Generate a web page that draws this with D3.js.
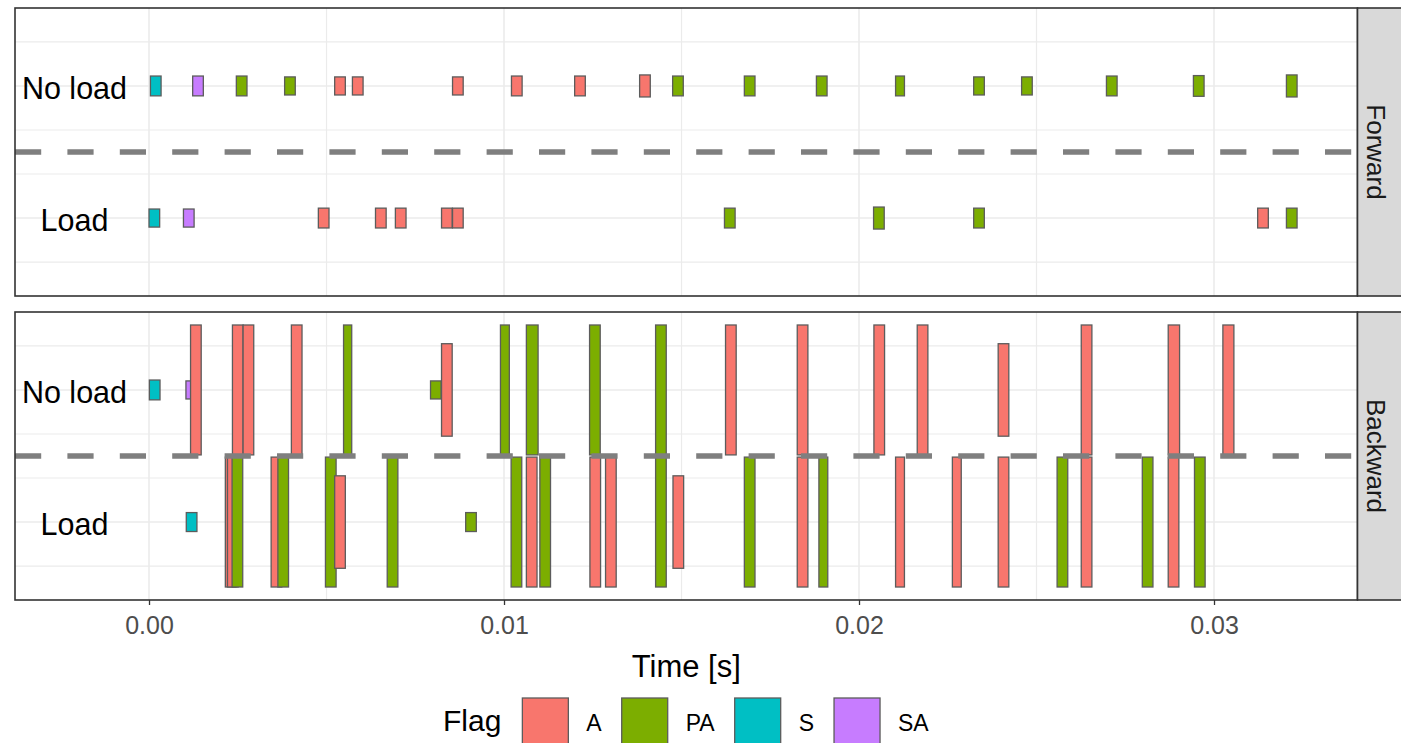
<!DOCTYPE html>
<html>
<head>
<meta charset="utf-8">
<script src="https://cdn.jsdelivr.net/npm/d3@7"></script>
<style>
  body { margin: 0; background: #ffffff; }
  svg { display: block; }
  text { font-family: "Liberation Sans", Arial, Helvetica, sans-serif; }
</style>
</head>
<body>
<svg id="chart" width="1401" height="743"></svg>
<script>
// ---- data -------------------------------------------------------------
// Each packet: [start time (s), TCP flag, bar height (y units), duration (s, optional)]
const flags = ["A", "PA", "S", "SA"];
const flagColors = ["#F8766D", "#7CAE00", "#00BFC4", "#C77CFF"];
const directions = ["Forward", "Backward"];
const conditions = ["No load", "Load"];
const conditionCentre = [1.5, -1.5];
const labelTime = -0.0021;
const xTicks = [0, 0.01, 0.02, 0.03];
const xTickLabels = ["0.00", "0.01", "0.02", "0.03"];
const xMinor = [0.005, 0.015, 0.025];
const yMajor = [1.5, -1.5];
const yMinor = [2.5, 0.5, -0.5, -2.5];
const defaultDuration = 0.0003;

const forwardNoLoad = [
  [0.00004, "S", 0.45], [0.00123, "SA", 0.45], [0.00246, "PA", 0.45],
  [0.00382, "PA", 0.41], [0.00523, "A", 0.41], [0.00573, "A", 0.41],
  [0.00855, "A", 0.41], [0.01021, "A", 0.45], [0.01199, "A", 0.45],
  [0.01382, "A", 0.50], [0.01475, "PA", 0.45], [0.01677, "PA", 0.45],
  [0.01880, "PA", 0.45], [0.02103, "PA", 0.45, 0.00025], [0.02323, "PA", 0.41],
  [0.02458, "PA", 0.41], [0.02697, "PA", 0.45], [0.02942, "PA", 0.47],
  [0.03204, "PA", 0.50]
];

const forwardLoad = [
  [0.00000, "S", 0.41], [0.00097, "SA", 0.41], [0.00477, "A", 0.45],
  [0.00638, "A", 0.45], [0.00694, "A", 0.45], [0.00824, "A", 0.45],
  [0.00855, "A", 0.45], [0.01621, "PA", 0.45], [0.02041, "PA", 0.50],
  [0.02323, "PA", 0.45], [0.03123, "A", 0.45], [0.03204, "PA", 0.45]
];

const backwardNoLoad = [
  [0.00001, "S", 0.45], [0.00104, "SA", 0.41], [0.00117, "A", 2.95],
  [0.00235, "A", 2.95], [0.00265, "A", 2.95], [0.00401, "A", 2.95],
  [0.00548, "PA", 2.95, 0.00023], [0.00793, "PA", 0.41], [0.00824, "A", 2.1],
  [0.00990, "PA", 2.95, 0.00025], [0.01063, "PA", 2.95, 0.00033], [0.01241, "PA", 2.95],
  [0.01427, "PA", 2.95], [0.01624, "A", 2.95], [0.01826, "A", 2.95],
  [0.02042, "A", 2.95], [0.02164, "A", 2.95], [0.02392, "A", 2.1],
  [0.02626, "A", 2.95], [0.02871, "A", 2.95, 0.00032], [0.03025, "A", 2.95, 0.00031]
];

const backwardLoad = [
  [0.00105, "S", 0.43], [0.00215, "A", 2.95], [0.00221, "A", 2.95],
  [0.00234, "PA", 2.95], [0.00344, "A", 2.95], [0.00363, "PA", 2.95],
  [0.00497, "PA", 2.95], [0.00523, "A", 2.1], [0.00671, "PA", 2.95],
  [0.00892, "PA", 0.43], [0.01020, "PA", 2.95], [0.01063, "A", 2.95],
  [0.01101, "PA", 2.95], [0.01242, "A", 2.95], [0.01286, "A", 2.95],
  [0.01427, "PA", 2.95], [0.01476, "A", 2.1], [0.01677, "PA", 2.95],
  [0.01826, "A", 2.95], [0.01887, "PA", 2.95, 0.00025], [0.02103, "A", 2.95, 0.00025],
  [0.02263, "A", 2.95, 0.00025], [0.02392, "A", 2.95], [0.02558, "PA", 2.95],
  [0.02626, "A", 2.95], [0.02798, "PA", 2.95], [0.02871, "A", 2.95],
  [0.02945, "PA", 2.95]
];

const panelPackets = [[forwardNoLoad, forwardLoad], [backwardNoLoad, backwardLoad]];

// ---- layout -----------------------------------------------------------
const svg = d3.select("#chart");
const panelLeft = 15, panelRight = 1357.5;
const panelTops = [8, 312];
const panelHeight = 288;
const stripWidth = 46;

const x = d3.scaleLinear().domain([-0.003775, 0.034042]).range([panelLeft, panelRight]);
const colour = d3.scaleOrdinal().domain(flags).range(flagColors);

directions.forEach((dir, p) => {
  const top = panelTops[p];
  const y = d3.scaleLinear().domain([-3.27, 3.27]).range([top + panelHeight, top]);
  const g = svg.append("g");

  // panel background
  g.append("rect").attr("x", panelLeft).attr("y", top)
    .attr("width", panelRight - panelLeft).attr("height", panelHeight)
    .attr("fill", "#ffffff");

  // grid lines
  const grid = g.append("g").attr("stroke", "#ebebeb").attr("fill", "none");
  yMinor.forEach(v => grid.append("line")
    .attr("x1", panelLeft).attr("x2", panelRight).attr("y1", y(v)).attr("y2", y(v))
    .attr("stroke-width", 1.2));
  xMinor.forEach(v => grid.append("line")
    .attr("x1", x(v)).attr("x2", x(v)).attr("y1", top).attr("y2", top + panelHeight)
    .attr("stroke-width", 1.2));
  yMajor.forEach(v => grid.append("line")
    .attr("x1", panelLeft).attr("x2", panelRight).attr("y1", y(v)).attr("y2", y(v))
    .attr("stroke-width", 1.6));
  xTicks.forEach(v => grid.append("line")
    .attr("x1", x(v)).attr("x2", x(v)).attr("y1", top).attr("y2", top + panelHeight)
    .attr("stroke-width", 1.6));

  // condition labels drawn inside the panel
  conditions.forEach((c, i) => {
    g.append("text").attr("x", x(labelTime)).attr("y", y(conditionCentre[i]))
      .attr("text-anchor", "middle").attr("dy", "0.42em")
      .attr("font-size", 30.5).attr("fill", "#000000").text(c);
  });

  // packet bars
  conditions.forEach((c, i) => {
    const centre = conditionCentre[i];
    g.append("g").selectAll("rect").data(panelPackets[p][i]).join("rect")
      .attr("x", d => x(d[0]))
      .attr("width", d => x(d[0] + (d[3] || defaultDuration)) - x(d[0]))
      .attr("y", d => y(centre + d[2] / 2))
      .attr("height", d => y(centre - d[2] / 2) - y(centre + d[2] / 2))
      .attr("fill", d => colour(d[1]))
      .attr("stroke", "#5c5c5c").attr("stroke-width", 1.3);
  });

  // separator between conditions
  g.append("line").attr("x1", panelLeft).attr("x2", panelRight)
    .attr("y1", y(0)).attr("y2", y(0))
    .attr("stroke", "#7f7f7f").attr("stroke-width", 5.5)
    .attr("stroke-dasharray", "26.2,26.2");

  // panel border
  g.append("rect").attr("x", panelLeft).attr("y", top)
    .attr("width", panelRight - panelLeft).attr("height", panelHeight)
    .attr("fill", "none").attr("stroke", "#333333").attr("stroke-width", 1.6);

  // facet strip
  g.append("rect").attr("x", panelRight).attr("y", top)
    .attr("width", stripWidth).attr("height", panelHeight)
    .attr("fill", "#d9d9d9").attr("stroke", "#333333").attr("stroke-width", 1.6);
  g.append("text")
    .attr("transform", `translate(${panelRight + 9},${top + panelHeight / 2}) rotate(90)`)
    .attr("text-anchor", "middle").attr("font-size", 26).attr("fill", "#1a1a1a")
    .text(dir);
});

// ---- x axis -----------------------------------------------------------
const axisY = panelTops[1] + panelHeight;
const axis = svg.append("g").attr("transform", `translate(0,${axisY})`)
  .call(d3.axisBottom(x).tickValues(xTicks).tickFormat((d, i) => xTickLabels[i])
    .tickSize(5).tickPadding(11));
axis.select(".domain").remove();
axis.selectAll(".tick line").attr("stroke", "#333333").attr("stroke-width", 1.3);
axis.selectAll(".tick text").attr("fill", "#4d4d4d").attr("font-size", 25)
  .attr("font-family", "Liberation Sans, Arial, sans-serif");

svg.append("text").attr("x", (panelLeft + panelRight) / 2).attr("y", 677)
  .attr("text-anchor", "middle").attr("font-size", 31).attr("fill", "#000000")
  .text("Time [s]");

// ---- legend -----------------------------------------------------------
const legend = svg.append("g");
const legendBaseline = 731;
const keySize = 46;
const title = legend.append("text").attr("x", 443).attr("y", legendBaseline)
  .attr("font-size", 30).attr("fill", "#000000").text("Flag");
let cursor = 443 + title.node().getComputedTextLength() + 21;
flags.forEach((f, i) => {
  legend.append("rect").attr("x", cursor).attr("y", 698)
    .attr("width", keySize).attr("height", keySize)
    .attr("fill", colour(f)).attr("stroke", "#5c5c5c").attr("stroke-width", 1.3);
  cursor += keySize + 18;
  const t = legend.append("text").attr("x", cursor).attr("y", legendBaseline)
    .attr("font-size", 23).attr("fill", "#000000").text(f);
  cursor += t.node().getComputedTextLength() + 20;
});
</script>
</body>
</html>
